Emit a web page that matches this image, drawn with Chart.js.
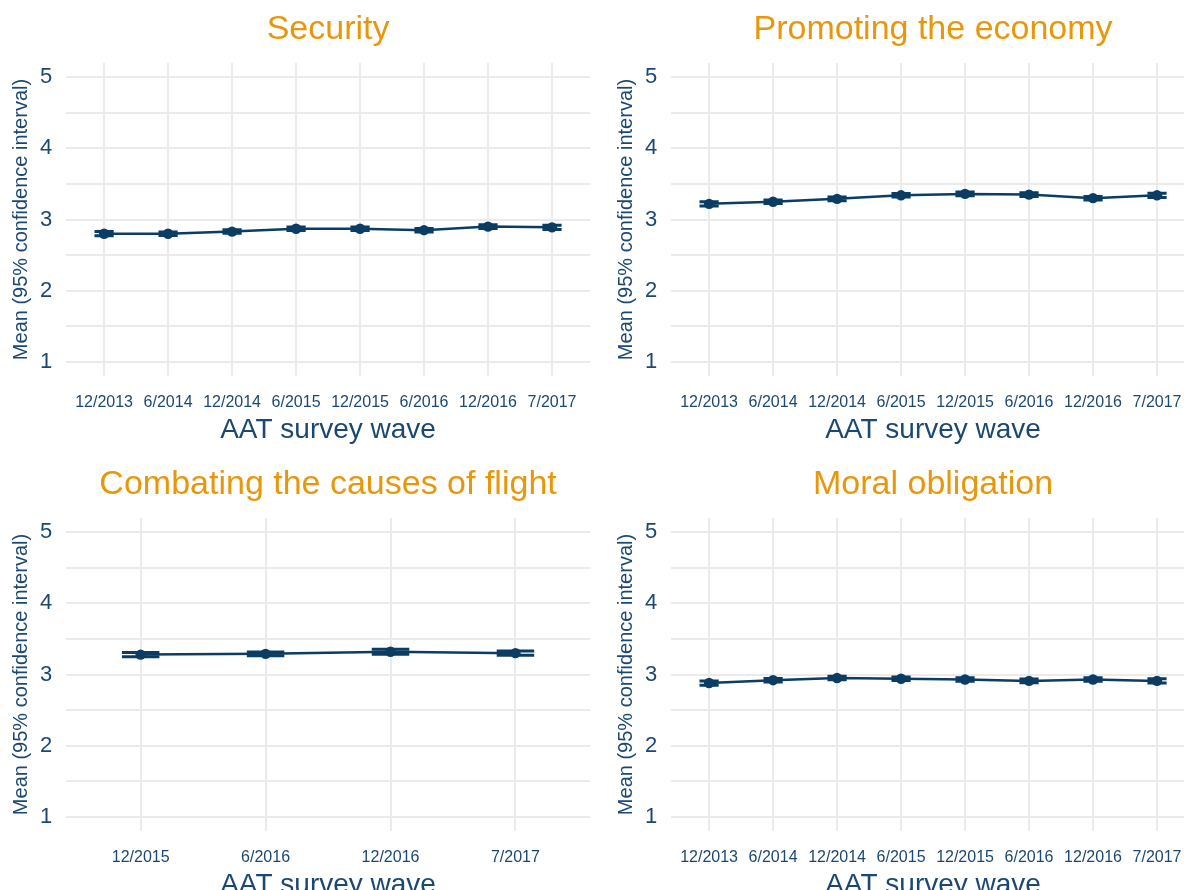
<!DOCTYPE html>
<html>
<head>
<meta charset="utf-8">
<script src="https://cdn.jsdelivr.net/npm/chart.js@4/dist/chart.umd.min.js"></script>
<style>
  html, body { margin: 0; padding: 0; background: #ffffff; }
  #wrap { position: relative; width: 1184px; height: 890px; overflow: hidden; background: #ffffff; }
  .panel { position: absolute; width: 605px; height: 455px; }
</style>
</head>
<body>
<div id="wrap">
  <div class="panel" style="left:0px;top:0px;"><canvas id="c1" width="605" height="455"></canvas></div>
  <div class="panel" style="left:605px;top:0px;"><canvas id="c2" width="605" height="455"></canvas></div>
  <div class="panel" style="left:0px;top:455px;"><canvas id="c3" width="605" height="455"></canvas></div>
  <div class="panel" style="left:605px;top:455px;"><canvas id="c4" width="605" height="455"></canvas></div>
</div>
<script>
// ---- data ----
const wavesAll = ['12/2013', '6/2014', '12/2014', '6/2015', '12/2015', '6/2016', '12/2016', '7/2017'];
const wavesLate = ['12/2015', '6/2016', '12/2016', '7/2017'];
const yTickValues = [1, 2, 3, 4, 5];

const securityMean = [2.80, 2.80, 2.83, 2.87, 2.87, 2.85, 2.90, 2.89];
const securityCI   = [0.03, 0.025, 0.025, 0.025, 0.025, 0.025, 0.025, 0.03];

const economyMean = [3.22, 3.25, 3.29, 3.34, 3.36, 3.35, 3.30, 3.34];
const economyCI   = [0.03, 0.025, 0.025, 0.025, 0.025, 0.025, 0.025, 0.03];

const flightMean = [3.28, 3.29, 3.32, 3.30];
const flightCI   = [0.03, 0.025, 0.035, 0.03];

const moralMean = [2.88, 2.92, 2.95, 2.94, 2.93, 2.91, 2.93, 2.91];
const moralCI   = [0.03, 0.025, 0.025, 0.025, 0.025, 0.025, 0.025, 0.03];

const titles = ['Security', 'Promoting the economy', 'Combating the causes of flight', 'Moral obligation'];

// ---- style ----
const FONT = "'Liberation Sans', Arial, Helvetica, sans-serif";
const MARK = '#0B3D64';
const TEXT = '#1A4873';
const ORANGE = '#E8970B';
const GRID = '#EBEBEB';

const errorBars = {
  id: 'errorBars',
  beforeDatasetsDraw(chart, args, opts) {
    const { ctx } = chart;
    const x = chart.scales.x, y = chart.scales.y;
    const ds = chart.data.datasets[0];
    const ci = opts.ci || [];
    const half = (x.getPixelForValue(1) - x.getPixelForValue(0)) * 0.3 / 2;
    ctx.save();
    ctx.strokeStyle = MARK;
    ctx.lineWidth = 3;
    ds.data.forEach((p, i) => {
      const px = x.getPixelForValue(p.x);
      const lo = y.getPixelForValue(p.y - ci[i]);
      const hi = y.getPixelForValue(p.y + ci[i]);
      ctx.beginPath();
      ctx.moveTo(px - half, lo); ctx.lineTo(px + half, lo);
      ctx.moveTo(px - half, hi); ctx.lineTo(px + half, hi);
      ctx.moveTo(px, lo); ctx.lineTo(px, hi);
      ctx.stroke();
    });
    ctx.restore();
  }
};

function makeChart(id, title, labels, means, ci) {
  const n = labels.length;
  return new Chart(document.getElementById(id), {
    type: 'line',
    data: {
      datasets: [{
        data: means.map((v, i) => ({ x: i, y: v })),
        borderColor: MARK,
        backgroundColor: MARK,
        borderWidth: 2.5,
        pointRadius: 5.2,
        pointBackgroundColor: MARK,
        pointBorderWidth: 0,
        tension: 0,
        fill: false
      }]
    },
    options: {
      responsive: false,
      animation: false,
      devicePixelRatio: 1,
      layout: { padding: { left: 0, right: 14.6, top: 0, bottom: 0 } },
      plugins: {
        legend: { display: false },
        tooltip: { enabled: false },
        title: {
          display: true,
          text: title,
          color: ORANGE,
          fullSize: false,
          font: { family: FONT, size: 34, weight: 'normal' },
          padding: { top: 9.5, bottom: 12.7 }
        },
        errorBars: { ci: ci }
      },
      scales: {
        x: {
          type: 'linear',
          min: -0.6,
          max: n - 1 + 0.6,
          afterBuildTicks: (s) => { s.ticks = labels.map((_, i) => ({ value: i })); },
          afterFit: (s) => { s.height = 79; },
          ticks: {
            autoSkip: false,
            maxRotation: 0,
            minRotation: 0,
            padding: 17,
            color: TEXT,
            font: { family: FONT, size: 16 },
            callback: (v) => labels[v]
          },
          grid: { color: GRID, lineWidth: 2, drawTicks: false },
          border: { display: false },
          title: {
            display: true,
            text: 'AAT survey wave',
            color: TEXT,
            font: { family: FONT, size: 28 },
            padding: { top: 0, bottom: 8 }
          }
        },
        y: {
          type: 'linear',
          min: 0.8,
          max: 5.2,
          afterBuildTicks: (s) => {
            const t = [];
            yTickValues.forEach((v, i) => {
              t.push({ value: v });
              if (i < yTickValues.length - 1) t.push({ value: (v + yTickValues[i + 1]) / 2 });
            });
            s.ticks = t;
          },
          afterFit: (s) => { s.width = 65.7; },
          ticks: {
            autoSkip: false,
            padding: 13.4,
            color: TEXT,
            font: { family: FONT, size: 22 },
            callback: (v) => (yTickValues.includes(v) ? String(v) : '')
          },
          grid: { color: GRID, lineWidth: 2, drawTicks: false },
          border: { display: false },
          title: {
            display: true,
            text: 'Mean (95% confidence interval)',
            color: TEXT,
            font: { family: FONT, size: 20 },
            padding: { top: 9, bottom: 0 }
          }
        }
      }
    },
    plugins: [errorBars]
  });
}

makeChart('c1', titles[0], wavesAll, securityMean, securityCI);
makeChart('c2', titles[1], wavesAll, economyMean, economyCI);
makeChart('c3', titles[2], wavesLate, flightMean, flightCI);
makeChart('c4', titles[3], wavesAll, moralMean, moralCI);
</script>
</body>
</html>
